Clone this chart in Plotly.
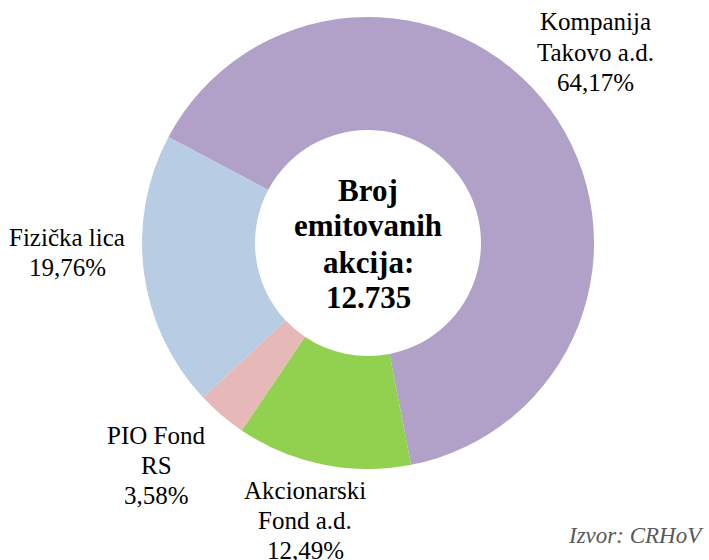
import plotly.graph_objects as go

labels = ["Kompanija<br>Takovo a.d.", "Akcionarski<br>Fond a.d.", "PIO Fond<br>RS", "Fizička lica"]
values = [64.17, 12.49, 3.58, 19.76]
pct_text = ["64,17%", "12,49%", "3,58%", "19,76%"]
colors = ["#B1A0C7", "#92D050", "#E6B9B8", "#B8CCE4"]
center_lines = ["Broj", "emitovanih", "akcija:", "12.735"]
source = "Izvor: CRHoV"

W, H = 709, 560
cx, cy, R = 368, 243, 226
FONT = "Times New Roman, Liberation Serif, serif"

fig = go.Figure(go.Pie(
    labels=labels, values=values, sort=False, direction="clockwise",
    rotation=-62, hole=0.5, marker=dict(colors=colors, line=dict(width=0)),
    textinfo="none", hoverinfo="label+percent", showlegend=False,
    domain=dict(x=[(cx - R) / W, (cx + R) / W], y=[1 - (cy + R) / H, 1 - (cy - R) / H]),
))

# outside label positions (pixel centres of each block)
label_pos = [(595, 52), (305, 520), (156, 465), (67, 252)]
LINE = 30
annotations = []
for lab, pct, (x, y) in zip(labels, pct_text, label_pos):
    lines = lab.split("<br>") + [pct]
    n = len(lines)
    for i, ln in enumerate(lines):
        yy = y + (i - (n - 1) / 2) * LINE
        annotations.append(dict(
            text=ln, x=x / W, y=1 - yy / H, xref="paper", yref="paper",
            xanchor="center", yanchor="middle", showarrow=False,
            font=dict(family=FONT, size=25, color="#000000"),
        ))

center_y = [190, 225, 262, 297]
for line, y in zip(center_lines, center_y):
    annotations.append(dict(
        text=f"<b>{line}</b>", x=cx / W, y=1 - y / H, xref="paper", yref="paper",
        xanchor="center", yanchor="middle", showarrow=False,
        font=dict(family=FONT, size=31, color="#000000"),
    ))

annotations.append(dict(
    text=f"<i>{source}</i>", x=706 / W, y=1 - 535 / H, xref="paper", yref="paper",
    xanchor="right", yanchor="middle", showarrow=False,
    font=dict(family=FONT, size=23, color="#595959"),
))

fig.update_layout(
    width=W, height=H, margin=dict(l=0, r=0, t=0, b=0),
    paper_bgcolor="white", plot_bgcolor="white",
    annotations=annotations,
)
fig.write_html("out.html", config={"displayModeBar": False},
               post_script="document.body.style.margin='0';")
